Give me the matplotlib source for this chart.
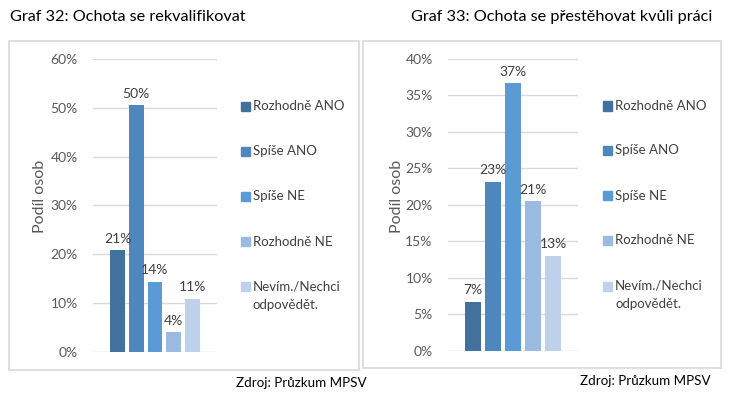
import matplotlib
matplotlib.use("Agg")
import matplotlib.pyplot as plt
from matplotlib.patches import Rectangle
from matplotlib.ticker import PercentFormatter

plt.rcParams["font.family"] = ["Lato", "DejaVu Sans"]

# ── data ─────────────────────────────────────────────────────────────────────
categories = ["Rozhodně ANO", "Spíše ANO", "Spíše NE", "Rozhodně NE",
              "Nevím./Nechci\nodpovědět."]
rekval = [0.208, 0.505, 0.143, 0.040, 0.108]      # Graf 32
rekval_labels = ["21%", "50%", "14%", "4%", "11%"]
stehovani = [0.067, 0.232, 0.367, 0.205, 0.130]   # Graf 33
stehovani_labels = ["7%", "23%", "37%", "21%", "13%"]

COLOURS = ["#41719C", "#4D87BD", "#5B9BD5", "#9BBAE0", "#BDD1EA"]
GRID = "#D9D9D9"
TICK = "#595959"
LABEL = "#404040"

W, H = 738, 393
fig = plt.figure(figsize=(W / 100, H / 100), dpi=100)


def px(x0, y0, x1, y1):
    """pixel box (top-left origin) -> figure fraction rect"""
    return [x0 / W, 1 - y1 / H, (x1 - x0) / W, (y1 - y0) / H]


def panel(rect, values, labels, ymax, step, xlim, ylab_x, box, legend_x, legend_y):
    ax = fig.add_axes(rect)
    xs = range(len(values))
    bars = ax.bar(xs, values, width=0.8, color=COLOURS, zorder=3)
    for b, lab in zip(bars, labels):
        ax.annotate(lab, (b.get_x() + b.get_width() / 2, b.get_height()),
                    xytext=(0, 4), textcoords="offset points",
                    ha="center", va="bottom", fontsize=10, color=LABEL, zorder=4)
    ax.set_ylim(0, ymax)
    ax.set_xlim(*xlim)
    ax.set_yticks([i * step for i in range(int(round(ymax / step)) + 1)])
    ax.yaxis.set_major_formatter(PercentFormatter(1.0, decimals=0))
    ax.grid(axis="y", color=GRID, linewidth=1, zorder=0)
    ax.set_xticks([])
    ax.tick_params(axis="y", length=0, pad=11, labelsize=10, labelcolor=TICK)
    for s in ax.spines.values():
        s.set_visible(False)
    ax.set_ylabel("Podíl osob", fontsize=11.5, color=TICK)
    ax.yaxis.set_label_coords(ylab_x, 0.5, transform=fig.transFigure)
    ax.yaxis.label.set_va("center")

    # outer frame of the chart
    x0, y0, x1, y1 = box
    fig.patches.append(Rectangle((x0 / W, 1 - y1 / H), (x1 - x0) / W, (y1 - y0) / H,
                                 transform=fig.transFigure, fill=False,
                                 edgecolor=GRID, linewidth=1.2))

    # legend
    for cat, col, ly in zip(categories, COLOURS, legend_y):
        fig.patches.append(Rectangle((legend_x / W, 1 - (ly + 4.5) / H), 9 / W, 9 / H,
                                     transform=fig.transFigure, color=col))
        lines = cat.split("\n")
        for k, ln in enumerate(lines):
            fig.text((legend_x + 12) / W, 1 - (ly + k * 18.5) / H, ln,
                     fontsize=9.5, color=LABEL, va="center", ha="left")
    return ax


panel(px(93, 59, 217, 351.7), rekval, rekval_labels, 0.6, 0.1,
      (-1.31, 5.31), 40 / W, (9, 41, 359, 370), 241,
      [106.5, 151.5, 196.5, 241.5, 286.5])
panel(px(448, 59, 578, 350.7), stehovani, stehovani_labels, 0.4, 0.05,
      (-1.25, 5.25), 397 / W, (363, 41, 721, 368), 603,
      [106, 150.5, 195.5, 240.5, 286])

# titles and sources
fig.text(10 / W, 1 - 17 / H, "Graf 32: Ochota se rekvalifikovat",
         fontsize=11.7, color="black", va="center", ha="left")
fig.text(411 / W, 1 - 17 / H, "Graf 33: Ochota se přestěhovat kvůli práci",
         fontsize=11.7, color="black", va="center", ha="left")
fig.text(367 / W, 1 - 383 / H, "Zdroj: Průzkum MPSV",
         fontsize=9.6, color="black", va="center", ha="right")
fig.text(711 / W, 1 - 381 / H, "Zdroj: Průzkum MPSV",
         fontsize=9.6, color="black", va="center", ha="right")

fig.savefig("out.png", dpi=100, facecolor="white")
